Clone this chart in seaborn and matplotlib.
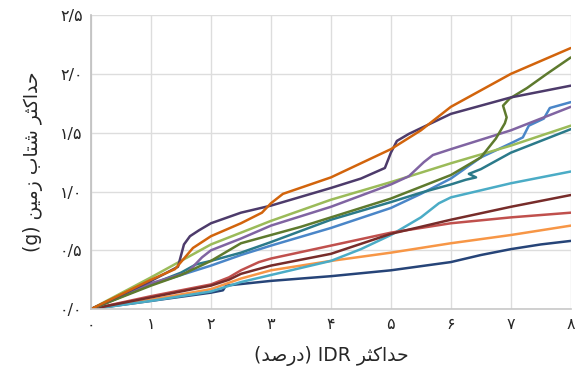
import matplotlib
matplotlib.use("Agg")
import matplotlib.pyplot as plt
import pandas as pd
import seaborn as sns

# ---- axis ticks ----
x_ticks = [0, 1, 2, 3, 4, 5, 6, 7, 8]
x_tick_labels = ["۰", "۱", "۲", "۳", "۴", "۵", "۶", "۷", "۸"]
y_ticks = [0.0, 0.5, 1.0, 1.5, 2.0, 2.5]
y_tick_labels = ["۰/۰", "۰/۵", "۱/۰", "۱/۵", "۲/۰", "۲/۵"]

# ---- IDA curves (max IDR %, PGA g) ----
navy_x = [0, 1, 2, 2.2, 2.25, 3, 4, 5, 6, 6.5, 7, 7.5, 8]
navy_y = [0, 0.07, 0.14, 0.16, 0.20, 0.24, 0.28, 0.33, 0.40, 0.46, 0.51, 0.55, 0.58]

lorange_x = [0, 1, 2, 2.5, 3, 4, 5, 6, 7, 8]
lorange_y = [0, 0.08, 0.17, 0.26, 0.33, 0.41, 0.48, 0.56, 0.63, 0.71]

cyan_x = [0, 1, 2, 2.5, 3, 4, 4.5, 5, 5.5, 5.8, 6, 6.5, 7, 7.5, 8]
cyan_y = [0, 0.07, 0.15, 0.23, 0.29, 0.41, 0.51, 0.63, 0.78, 0.90, 0.95, 1.01, 1.07, 1.12, 1.17]

red_x = [0, 1, 2, 2.3, 2.5, 2.8, 3, 4, 5, 6, 7, 8]
red_y = [0, 0.11, 0.21, 0.27, 0.33, 0.40, 0.43, 0.54, 0.65, 0.73, 0.78, 0.82]

maroon_x = [0, 1, 2, 2.3, 2.5, 3, 4, 5, 6, 7, 8]
maroon_y = [0, 0.10, 0.20, 0.25, 0.30, 0.37, 0.47, 0.64, 0.76, 0.87, 0.97]

blue_x = [0, 1, 2, 2.5, 3, 4, 5, 5.5, 6, 6.5, 7, 7.2, 7.3, 7.55, 7.65, 8]
blue_y = [0, 0.21, 0.37, 0.46, 0.54, 0.69, 0.86, 0.98, 1.11, 1.29, 1.41, 1.46, 1.56, 1.62, 1.71, 1.76]

teal_x = [0, 1, 1.5, 1.75, 2, 2.5, 3, 4, 5, 5.5, 6, 6.25, 6.42, 6.3, 6.5, 7, 8]
teal_y = [0, 0.21, 0.31, 0.38, 0.41, 0.48, 0.57, 0.76, 0.91, 0.99, 1.06, 1.10, 1.12, 1.15, 1.19, 1.33, 1.53]

lgreen_x = [0, 1, 2, 2.5, 3, 4, 5, 6, 7, 8]
lgreen_y = [0, 0.27, 0.55, 0.65, 0.75, 0.93, 1.08, 1.24, 1.39, 1.56]

purple_x = [0, 1, 1.6, 1.7, 1.85, 2, 2.5, 3, 4, 5, 5.3, 5.55, 5.7, 6, 7, 8]
purple_y = [0, 0.22, 0.31, 0.36, 0.44, 0.50, 0.60, 0.71, 0.87, 1.06, 1.13, 1.25, 1.31, 1.36, 1.52, 1.72]

olive_x = [0, 1, 1.5, 2, 2.5, 3, 3.5, 4, 5, 6, 6.5, 6.75, 6.9, 6.93, 6.87, 6.98, 7.27, 7.6, 8]
olive_y = [0, 0.20, 0.29, 0.41, 0.56, 0.63, 0.70, 0.78, 0.94, 1.14, 1.29, 1.45, 1.58, 1.63, 1.73, 1.79, 1.88, 2.00, 2.14]

dpurple_x = [0, 1, 1.45, 1.55, 1.65, 1.8, 2, 2.5, 3, 4, 4.5, 4.9, 5.0, 5.1, 5.3, 6, 7, 8]
dpurple_y = [0, 0.24, 0.36, 0.55, 0.62, 0.67, 0.73, 0.82, 0.88, 1.03, 1.11, 1.20, 1.33, 1.43, 1.49, 1.66, 1.80, 1.90]

dorange_x = [0, 1, 1.4, 1.7, 2, 2.5, 2.85, 3.0, 3.2, 4, 5, 5.5, 6, 7, 7.5, 8]
dorange_y = [0, 0.25, 0.34, 0.52, 0.62, 0.73, 0.82, 0.90, 0.98, 1.12, 1.36, 1.52, 1.72, 2.00, 2.11, 2.22]

series = [
    ("navy", navy_x, navy_y, "#264478"),
    ("lorange", lorange_x, lorange_y, "#F79646"),
    ("cyan", cyan_x, cyan_y, "#4BACC6"),
    ("red", red_x, red_y, "#C0504D"),
    ("maroon", maroon_x, maroon_y, "#772C2A"),
    ("blue", blue_x, blue_y, "#4A86C8"),
    ("teal", teal_x, teal_y, "#2B7A8A"),
    ("lgreen", lgreen_x, lgreen_y, "#9BBB59"),
    ("purple", purple_x, purple_y, "#8064A2"),
    ("olive", olive_x, olive_y, "#5E7A2E"),
    ("dpurple", dpurple_x, dpurple_y, "#4D3B6B"),
    ("dorange", dorange_x, dorange_y, "#D2640C"),
]

rows = []
for name, xs, ys, _ in series:
    for i, (xv, yv) in enumerate(zip(xs, ys)):
        rows.append({"rec": name, "order": i, "idr": xv, "pga": yv})
df = pd.DataFrame(rows)
palette = {name: c for name, _, _, c in series}

sns.set_theme(style="white")
plt.rcParams["font.family"] = ["DejaVu Sans"]

fig = plt.figure(figsize=(5.76, 3.68), dpi=100)
ax = fig.add_axes([0.158, 0.160, 0.833, 0.799])

sns.lineplot(data=df, x="idr", y="pga", hue="rec", palette=palette,
             sort=False, estimator=None, legend=False, linewidth=1.8, ax=ax)

ax.set_xlim(0, 8)
ax.set_ylim(0, 2.5)
ax.set_xticks(x_ticks)
ax.set_xticklabels(x_tick_labels, fontsize=11.5)
ax.set_yticks(y_ticks)
ax.set_yticklabels(y_tick_labels, fontsize=11.5)
ax.tick_params(axis="both", length=0, pad=6)
ax.grid(True, color="#DDDDDD", linewidth=1.0)
ax.set_axisbelow(True)
for s in ["top", "right"]:
    ax.spines[s].set_visible(False)
ax.spines["left"].set_color("#BFBFBF")
ax.spines["left"].set_linewidth(1.2)
ax.spines["bottom"].set_color("#C8C8C8")
ax.spines["bottom"].set_linewidth(1.2)

# Persian labels (visual order, presentation forms)
hadaksar = "\uFEAE\uFE9C\uFB90\uFE8D\uFEAA\uFEA3"
shetab = "\uFE8F\uFE8E\uFE98\uFEB7"
zamin = "\uFEE6\uFBFF\uFEE3\uFEAF"
darsad = "\uFEAA\uFEBB\uFEAD\uFEA9"
ylabel = "(g) " + zamin + " " + shetab + " " + hadaksar
xlabel = "(" + darsad + ") IDR " + hadaksar
ax.set_xlabel(xlabel, fontsize=13.5, labelpad=10)
ax.set_ylabel(ylabel, fontsize=13.5, labelpad=12)

fig.savefig("out.png", dpi=100)
